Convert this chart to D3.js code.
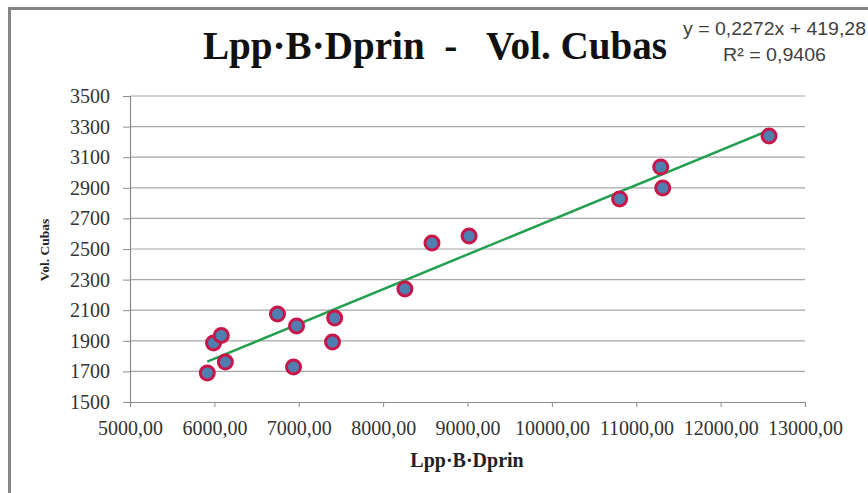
<!DOCTYPE html>
<html><head><meta charset="utf-8">
<script src="https://cdn.jsdelivr.net/npm/d3@7"></script>
<style>body{margin:0;background:#fff}svg{display:block}</style>
</head><body>
<svg id="c" width="868" height="493"></svg>
<script>
const xValues = [5916, 5990, 6082, 6130, 6748, 6974, 6938, 7426, 7400, 8258, 8579, 9019, 10803, 11290, 11314, 12574];
const yValues = [1690, 1886, 1935, 1761, 2075, 1997, 1729, 2049, 1892, 2239, 2539, 2585, 2827, 3036, 2899, 3239];
const xTicks = [5000, 6000, 7000, 8000, 9000, 10000, 11000, 12000, 13000];
const yTicks = [1500, 1700, 1900, 2100, 2300, 2500, 2700, 2900, 3100, 3300, 3500];
const trendSlope = 0.2272, trendIntercept = 419.28;
const trendR2 = "0,9406";
const titleText = "Lpp·B·Dprin  -   Vol. Cubas";
const xTitle = "Lpp·B·Dprin";
const yTitle = "Vol. Cubas";

const svg = d3.select("#c");
const serif = "'Liberation Serif','Times New Roman',serif";
const sans = "'Liberation Sans Narrow','Liberation Sans',Arial,sans-serif";

// frame
svg.append("rect").attr("x", 9.5).attr("y", 8.5).attr("width", 900).attr("height", 600)
  .attr("fill", "#fff").attr("stroke", "#858585").attr("stroke-width", 3);

const x = d3.scaleLinear().domain([5000, 13000]).range([130, 805]);
const y = d3.scaleLinear().domain([1500, 3500]).range([402, 96]);

// gridlines
svg.append("g").selectAll("line").data(yTicks.filter(d => d > 1500)).join("line")
  .attr("x1", 130).attr("x2", x(13000)).attr("y1", d => y(d)).attr("y2", d => y(d))
  .attr("stroke", "#a6a6a6").attr("stroke-width", 1.2);

// y axis
const yAxis = svg.append("g").attr("transform", "translate(130,0)")
  .call(d3.axisLeft(y).tickValues(yTicks).tickSize(7).tickPadding(13).tickFormat(d3.format("d")));
yAxis.select(".domain").attr("stroke", "#8c8c8c").attr("stroke-width", 1.2);
yAxis.selectAll(".tick line").attr("stroke", "#8c8c8c");
yAxis.selectAll("text").attr("font-family", serif).attr("font-size", 20).attr("fill", "#333");

// x axis
const xAxis = svg.append("g").attr("transform", "translate(0,402)")
  .call(d3.axisBottom(x).tickValues(xTicks).tickSize(5).tickPadding(14)
    .tickFormat(d => d3.format(".2f")(d).replace(".", ",")));
xAxis.select(".domain").attr("stroke", "#8c8c8c").attr("stroke-width", 1.2);
xAxis.selectAll(".tick line").attr("stroke", "#8c8c8c");
xAxis.selectAll("text").attr("font-family", serif).attr("font-size", 20).attr("fill", "#333");

// trendline
const xExt = d3.extent(xValues);
svg.append("line")
  .attr("x1", x(xExt[0])).attr("y1", y(trendSlope * xExt[0] + trendIntercept))
  .attr("x2", x(xExt[1])).attr("y2", y(trendSlope * xExt[1] + trendIntercept))
  .attr("stroke", "#22a050").attr("stroke-width", 2.5);

// points
svg.append("g").selectAll("circle").data(xValues.map((v, i) => [v, yValues[i]])).join("circle")
  .attr("cx", d => x(d[0])).attr("cy", d => y(d[1])).attr("r", 7)
  .attr("fill", "#4f7fb0").attr("stroke", "#c8164a").attr("stroke-width", 3);

// title
svg.append("text").attr("x", 203).attr("y", 59).attr("font-family", serif)
  .attr("font-weight", "bold").attr("font-size", 41).attr("fill", "#111")
  .attr("textLength", 464).attr("lengthAdjust", "spacingAndGlyphs")
  .style("white-space", "pre").text(titleText);

// equation
svg.append("text").attr("x", 683).attr("y", 35).attr("font-family", sans).attr("font-size", 19)
  .attr("fill", "#404040").attr("textLength", 183).attr("lengthAdjust", "spacingAndGlyphs")
  .text(`y = ${String(trendSlope).replace(".", ",")}x + ${String(trendIntercept).replace(".", ",")}`);
svg.append("text").attr("x", 723).attr("y", 61).attr("font-family", sans)
  .attr("font-size", 19).attr("fill", "#404040").attr("textLength", 103).attr("lengthAdjust", "spacingAndGlyphs")
  .text(`R² = ${trendR2}`);

// axis titles
svg.append("text").attr("x", 467).attr("y", 467).attr("text-anchor", "middle").attr("font-family", serif)
  .attr("font-weight", "bold").attr("font-size", 20).attr("fill", "#222").text(xTitle);
svg.append("text").attr("transform", "translate(49,250) rotate(-90)").attr("text-anchor", "middle")
  .attr("font-family", serif).attr("font-weight", "bold").attr("font-size", 13.5).attr("fill", "#222").text(yTitle);
</script>
</body></html>
